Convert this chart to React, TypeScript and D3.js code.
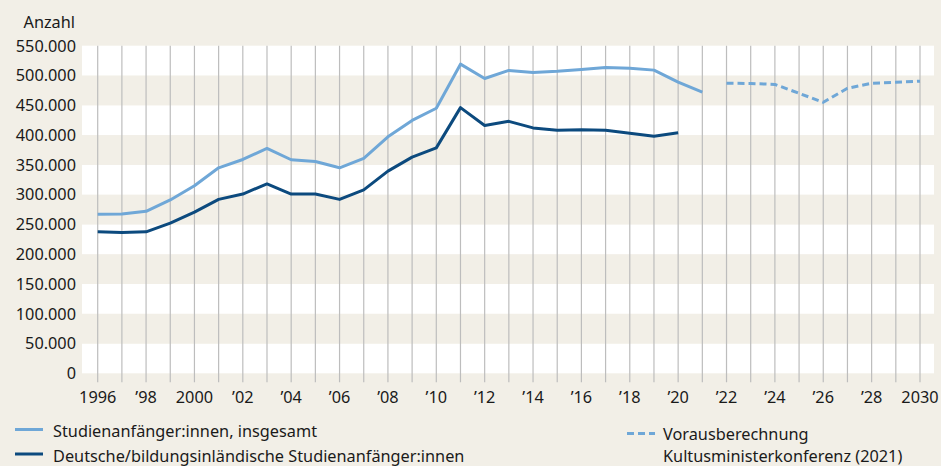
import React from "react";
import * as d3 from "d3";

if (typeof document !== "undefined") {
  document.body.style.margin = "0";
}

const years: number[] = d3.range(1996, 2022);
const totalValues: number[] = [
  267000, 267500, 272000, 291000, 315000, 345000, 359000, 377500, 358500, 355500,
  345000, 361000, 397000, 424500, 445000, 519000, 495000, 508500, 505000, 507000,
  510000, 513500, 512000, 509000, 489000, 472000,
];
const domesticYears: number[] = d3.range(1996, 2021);
const domesticValues: number[] = [
  237500, 236500, 237500, 252000, 270500, 292000, 301000, 318000, 301000, 301000,
  292000, 308000, 339500, 363000, 378500, 446000, 416000, 423000, 412000, 408000,
  409000, 408000, 403000, 398000, 404000,
];
const projectionYears: number[] = d3.range(2022, 2031);
const projectionValues: number[] = [
  487000, 486500, 485000, 470000, 455000, 478500, 487000, 488500, 490500,
];
const yTicks: number[] = d3.range(0, 550001, 50000);
const xTickYears: number[] = d3.range(1996, 2031, 2);
const gridYears: number[] = d3.range(1996, 2031);

const legendLeft: string[] = [
  "Studienanfänger:innen, insgesamt",
  "Deutsche/bildungsinländische Studienanfänger:innen",
];
const legendRight: string[] = ["Vorausberechnung", "Kultusministerkonferenz (2021)"];
const yTitle = "Anzahl";

const W = 941;
const H = 466;
const plotLeft = 82;
const plotRight = 934;
const plotTop = 45.7;
const plotBottom = 373.3;

const BG = "#f2efe7";
const LIGHT = "#6fa7d7";
const DARK = "#0c4a7e";
const GRID = "#bdbdbd";
const TEXT = "#1a1a1a";
const FONT = "'Noto Sans', 'Open Sans', sans-serif";

const fmt = (v: number) => {
  if (v === 0) return "0";
  const s = String(v);
  return s.slice(0, s.length - 3) + "." + s.slice(s.length - 3);
};

const xLabel = (y: number) =>
  y === 1996 || y === 2000 || y === 2030 ? String(y) : "\u2019" + String(y).slice(2);

export default function App() {
  const x = d3.scaleLinear().domain([1996, 2030]).range([97.7, 920]);
  const y = d3.scaleLinear().domain([0, 550000]).range([plotBottom, plotTop]);

  const line = d3
    .line<[number, number]>()
    .x((d) => x(d[0]))
    .y((d) => y(d[1]));

  const totalPath = line(years.map((yr, i) => [yr, totalValues[i]]));
  const domesticPath = line(domesticYears.map((yr, i) => [yr, domesticValues[i]]));
  const projPath = line(projectionYears.map((yr, i) => [yr, projectionValues[i]]));

  return (
    <svg
      width={W}
      height={H}
      viewBox={`0 0 ${W} ${H}`}
      style={{ display: "block", fontFamily: FONT }}
    >
      <rect x={0} y={0} width={W} height={H} fill={BG} />
      {yTicks.slice(0, -1).map((v, i) => (
        <rect
          key={v}
          x={plotLeft}
          y={y(v + 50000)}
          width={plotRight - plotLeft}
          height={y(v) - y(v + 50000)}
          fill={i % 2 === 0 ? "#ffffff" : BG}
        />
      ))}
      {gridYears.map((yr) => (
        <line
          key={yr}
          x1={x(yr)}
          x2={x(yr)}
          y1={plotTop}
          y2={plotBottom + 9}
          stroke={GRID}
          strokeWidth={1.2}
        />
      ))}
      {yTicks.map((v) => (
        <text
          key={v}
          x={76}
          y={y(v) + 5.8}
          textAnchor="end"
          fontSize={16.3}
          fill={TEXT}
        >
          {fmt(v)}
        </text>
      ))}
      <text x={75} y={28} textAnchor="end" fontSize={16.3} fill={TEXT}>
        {yTitle}
      </text>
      {xTickYears.map((yr) => (
        <text
          key={yr}
          x={x(yr)}
          y={403.3}
          textAnchor="middle"
          fontSize={16.3}
          fill={TEXT}
        >
          {xLabel(yr)}
        </text>
      ))}
      <path d={totalPath || ""} fill="none" stroke={LIGHT} strokeWidth={3} strokeLinejoin="round" />
      <path d={domesticPath || ""} fill="none" stroke={DARK} strokeWidth={3} strokeLinejoin="round" />
      <path
        d={projPath || ""}
        fill="none"
        stroke={LIGHT}
        strokeWidth={3}
        strokeDasharray="7,4"
        strokeLinejoin="round"
      />
      <line x1={15} x2={43} y1={429.5} y2={429.5} stroke={LIGHT} strokeWidth={3} />
      <line x1={15} x2={43} y1={454} y2={454} stroke={DARK} strokeWidth={3} />
      <text x={53} y={436.5} fontSize={16.3} fill={TEXT}>
        {legendLeft[0]}
      </text>
      <text x={53} y={461.5} fontSize={16.3} fill={TEXT}>
        {legendLeft[1]}
      </text>
      <line
        x1={627}
        x2={655}
        y1={433.5}
        y2={433.5}
        stroke={LIGHT}
        strokeWidth={3}
        strokeDasharray="7,4"
      />
      <text x={663} y={440} fontSize={16.3} fill={TEXT}>
        {legendRight[0]}
      </text>
      <text x={663} y={462} fontSize={16.3} fill={TEXT}>
        {legendRight[1]}
      </text>
    </svg>
  );
}
